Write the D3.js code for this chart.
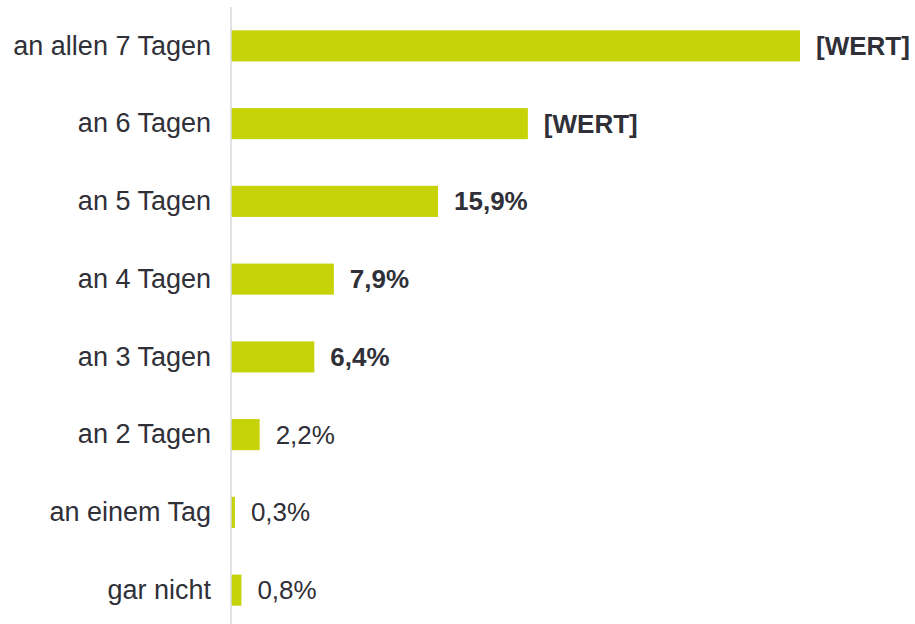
<!DOCTYPE html>
<html>
<head>
<meta charset="utf-8">
<script src="https://cdn.jsdelivr.net/npm/d3@7"></script>
<style>
  body { margin: 0; background: #fff; }
  svg { display: block; font-family: "Liberation Sans", Arial, sans-serif; }
</style>
</head>
<body>
<div class="graph-center"></div>
<script>
// data
let categories = ['an allen 7 Tagen', 'an 6 Tagen', 'an 5 Tagen', 'an 4 Tagen', 'an 3 Tagen', 'an 2 Tagen', 'an einem Tag', 'gar nicht']
let values = [43.7, 22.8, 15.9, 7.9, 6.4, 2.2, 0.3, 0.8]
let valueLabels = ['[WERT]', '[WERT]', '15,9%', '7,9%', '6,4%', '2,2%', '0,3%', '0,8%']
let boldLabel = [true, true, true, true, true, false, false, false]

let svgWidth = 915
let svgHeight = 624

let svg = d3.select('.graph-center')
    .append('svg')
    .attr('width', svgWidth)
    .attr('height', svgHeight)

// scales
let xScale = d3.scaleLinear()
    .domain([0, 43.7])
    .range([231, 800])

let yScale = d3.scaleBand()
    .domain(categories)
    .range([7, 629])
    .paddingInner(0.6)
    .paddingOuter(0.3)

let textColor = '#303038'

// bars
svg.selectAll('rect.bar')
    .data(values)
    .join('rect')
    .attr('class', 'bar')
    .attr('x', xScale(0))
    .attr('y', (d, i) => yScale(categories[i]))
    .attr('width', d => xScale(d) - xScale(0))
    .attr('height', yScale.bandwidth())
    .attr('fill', '#c6d309')

// category axis
let yAxis = d3.axisLeft(yScale)
    .tickSize(0)
    .tickPadding(20)

let gy = svg.append('g')
    .attr('id', 'y-axis')
    .attr('transform', `translate(${xScale(0)},0)`)
    .call(yAxis)

gy.select('.domain').remove()
gy.selectAll('text')
    .attr('font-size', 27)
    .attr('font-family', '"Liberation Sans", Arial, sans-serif')
    .attr('fill', textColor)

// vertical axis line
svg.append('line')
    .attr('x1', xScale(0))
    .attr('x2', xScale(0))
    .attr('y1', 7)
    .attr('y2', svgHeight)
    .attr('stroke', '#d9d9de')
    .attr('stroke-width', 1.5)

// value labels
svg.selectAll('text.val')
    .data(values)
    .join('text')
    .attr('class', 'val')
    .attr('x', d => xScale(d) + 16)
    .attr('y', (d, i) => yScale(categories[i]) + yScale.bandwidth() / 2)
    .attr('dy', '0.35em')
    .attr('font-size', 26)
    .attr('font-weight', (d, i) => boldLabel[i] ? 'bold' : 'normal')
    .attr('fill', textColor)
    .text((d, i) => valueLabels[i])
</script>
</body>
</html>
